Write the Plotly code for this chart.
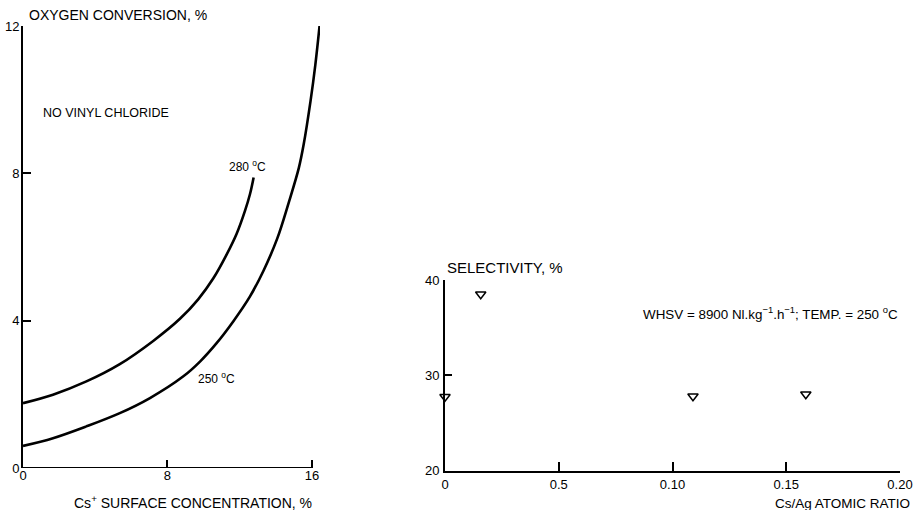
import plotly.graph_objects as go

W, H = 913, 510

# ---- Left panel data: oxygen conversion vs Cs+ surface concentration ----
cs_280 = [0, 1.66, 3.51, 5.36, 7.21, 8.69, 9.70, 10.54, 11.28, 11.83, 12.29, 12.57, 12.77]
o2_280 = [1.76, 1.99, 2.35, 2.82, 3.45, 4.05, 4.58, 5.15, 5.80, 6.36, 6.98, 7.44, 7.89]

cs_250 = [0, 1.66, 3.51, 5.36, 7.03, 8.88, 9.80, 10.72, 11.64, 12.57, 13.31, 14.07, 14.71, 15.27, 15.54, 15.92, 16.19, 16.42]
o2_250 = [0.60, 0.81, 1.13, 1.49, 1.90, 2.49, 2.89, 3.39, 3.98, 4.66, 5.35, 6.22, 7.20, 8.14, 8.78, 9.96, 10.96, 12.0]

left_xticks = [0, 8, 16]
left_yticks = [0, 4, 8, 12]

# ---- Right panel data: selectivity vs Cs/Ag atomic ratio ----
ratio = [0.0, 0.0157, 0.109, 0.1586]
selectivity = [27.75, 38.5, 27.8, 28.0]

right_xticks = [0, 0.05, 0.10, 0.15, 0.20]
right_xticktext = ["0", "0.5", "0.10", "0.15", "0.20"]
right_yticks = [20, 30, 40]

FONT = "Liberation Sans, Arial, sans-serif"

def px(x):
    return x / W

def py(y):
    return 1 - y / H

fig = go.Figure()

fig.add_trace(go.Scatter(x=cs_280, y=o2_280, mode="lines", line=dict(color="black", width=2.6, shape="spline"),
                         xaxis="x", yaxis="y", showlegend=False))
fig.add_trace(go.Scatter(x=cs_250, y=o2_250, mode="lines", line=dict(color="black", width=2.6, shape="spline"),
                         xaxis="x", yaxis="y", showlegend=False))
fig.add_trace(go.Scatter(x=ratio, y=selectivity, mode="markers",
                         marker=dict(symbol="triangle-down-open", size=9, color="black", line=dict(width=1.5, color="black")),
                         cliponaxis=False, xaxis="x2", yaxis="y2", showlegend=False))

base = dict(showgrid=False, zeroline=False, ticks="inside", tickcolor="black", automargin=False,
            tickfont=dict(family=FONT, size=13, color="black"))
line = dict(linecolor="black", linewidth=2, showline=True)

fig.update_layout(
    width=W, height=H,
    margin=dict(l=0, r=0, t=0, b=0),
    paper_bgcolor="white", plot_bgcolor="white",
    font=dict(family=FONT, color="black"),
    xaxis=dict(domain=[px(23), px(23 + 16.45 * 18.06)], range=[0, 16.45], tickvals=left_xticks,
               showline=False, ticklen=8, tickwidth=2, anchor="y", ticklabelstandoff=-2, **base),
    yaxis=dict(domain=[py(468), py(26)], range=[0, 12], tickvals=left_yticks,
               ticklen=8, tickwidth=2, anchor="x", ticklabelstandoff=-1, **base, **line),
    xaxis2=dict(domain=[px(445), px(900)], range=[0, 0.20], tickvals=right_xticks, ticktext=right_xticktext,
                ticklen=9, tickwidth=2, anchor="y2", ticklabelstandoff=1, **base, **line),
    yaxis2=dict(domain=[py(470.5), py(280)], range=[20, 40], tickvals=right_yticks,
                ticklen=7, tickwidth=2, anchor="x2", ticklabelstandoff=1, **base, **line),
)

# x-axis line of the left panel (ends at the 16 tick)
fig.add_shape(type="line", xref="x", yref="y", x0=0, x1=16, y0=0, y1=0, line=dict(color="black", width=2))

def ann(text, x, y, size, xanchor="left", yanchor="middle"):
    fig.add_annotation(text=text, x=px(x), y=py(y), xref="paper", yref="paper", showarrow=False,
                       xanchor=xanchor, yanchor=yanchor, font=dict(family=FONT, size=size, color="black"))

ann("OXYGEN CONVERSION, %", 27, 15, 14)
ann("NO VINYL CHLORIDE", 41, 113, 12.5)
ann("280 <sup>o</sup>C", 227, 166, 12)
ann("250 <sup>o</sup>C", 196, 378, 12)
ann("Cs<sup>+</sup> SURFACE CONCENTRATION, %", 314, 502, 14, xanchor="right")
ann("SELECTIVITY, %", 445, 267, 15)
ann("WHSV = 8900 Nl.kg<sup>\u22121</sup>.h<sup>\u22121</sup>; TEMP. = 250 <sup>o</sup>C", 641, 313, 13.4)
ann("Cs/Ag ATOMIC RATIO", 912, 503, 13.5, xanchor="right")

# remove the default page margin so the 913x510 figure fills the window exactly
fig.write_html("out.html", config={"displayModeBar": False},
               post_script="document.body.style.margin='0';")
